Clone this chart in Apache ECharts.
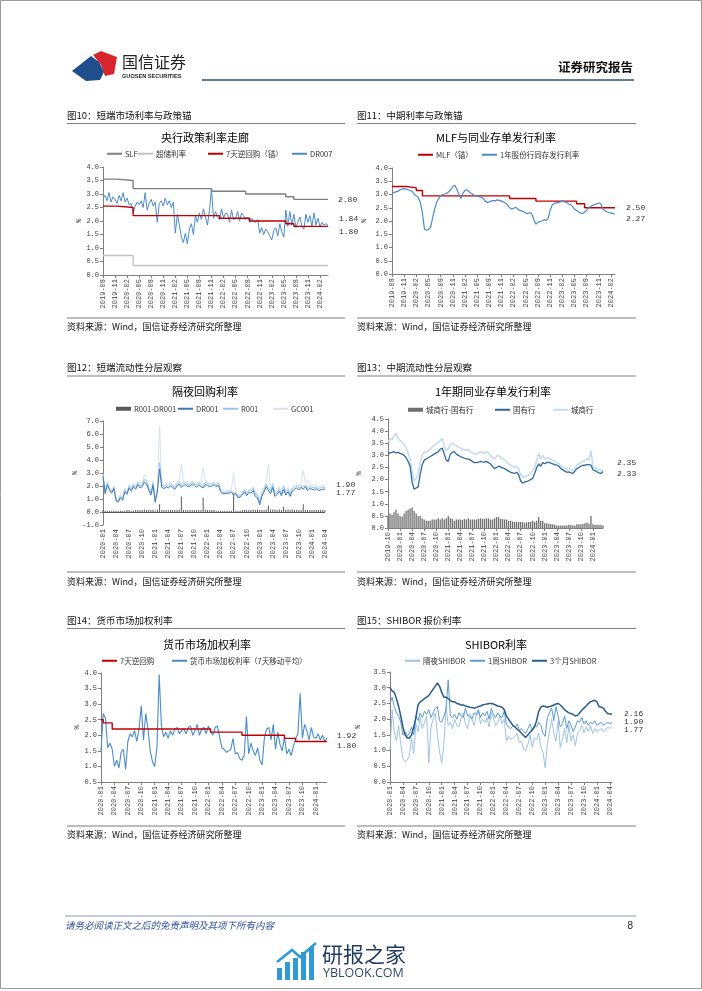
<!DOCTYPE html>
<html><head><meta charset="utf-8">
<script src="https://cdn.jsdelivr.net/npm/echarts@6/dist/echarts.min.js"></script>
<style>html,body{margin:0;padding:0;background:#fff}#c{width:702px;height:991px}</style>
</head><body><div id="c"></div>
<script>
// ---------- categories (half-month buckets) ----------
function halfMonths(y, m, n) {
  const out = [];
  for (let k = 0; k < n; k++) {
    const idx = (m - 1) + Math.floor(k / 2);
    const yy = y + Math.floor(idx / 12), mo = idx % 12 + 1;
    out.push(yy + '-' + String(mo).padStart(2, '0') + '-' + (k % 2 + 1));
  }
  return out;
}
const cats1 = halfMonths(2019, 8, 113);
const cats2 = halfMonths(2019, 8, 111);
const cats3 = halfMonths(2020, 1, 103);
const cats4 = halfMonths(2019, 10, 108);
const cats5 = halfMonths(2020, 1, 102);
const cats6 = halfMonths(2020, 1, 104);

// ---------- chart 10: 央行政策利率走廊 ----------
const slf = [['2019-08-1',3.55],['2019-11-2',3.50],['2020-03-2',3.20],['2021-11-1',3.10],['2022-07-2',3.00],['2023-05-2',2.90],['2023-07-2',2.80],['2024-04-1',2.80]];
const excessReserve = [['2019-08-1',0.72],['2020-03-2',0.35],['2024-04-1',0.35]];
const repo7dAnchor = [['2019-08-1',2.55],['2019-11-2',2.50],['2020-03-2',2.20],['2022-01-1',2.10],['2022-08-2',2.00],['2023-05-2',1.90],['2023-07-2',1.80],['2024-04-1',1.80]];
const dr007 = [
 2.85,2.95, 2.75,3.05, 2.70,2.90, 2.80,2.65, 2.95,2.75, 3.05,2.70,
 2.85,2.60, 2.65,2.30, 2.55,2.70, 2.60,2.75, 2.50,3.05, 2.40,2.65,
 2.80,2.55, 2.70,1.95, 2.65,2.75, 2.55,2.85, 2.60,2.75, 2.50,2.70,
 1.55,2.25, 1.85,1.40, 1.20,1.55, 1.15,1.70, 1.90,1.50, 2.20,1.95,
 2.30,2.05, 2.45,2.15, 1.85,2.40, 3.20,2.10, 2.35,2.15, 2.05,2.45,
 2.10,2.30, 2.25,1.95, 2.40,2.05, 2.10,2.35, 2.00,2.30, 2.20,2.05,
 2.15,1.95, 2.10,2.00, 1.95,2.05, 1.55,1.75, 1.50,1.70, 1.60,1.45,
 1.30,1.65, 1.75,1.45, 1.90,1.60, 1.40,2.40, 1.80,2.35, 1.85,2.25,
 1.75,1.95, 2.15,1.80, 1.70,2.25, 1.95,2.20, 1.80,2.30, 1.85,2.10,
 1.80,1.95, 1.85,1.90, 1.84];

// ---------- chart 11: MLF与同业存单发行利率 ----------
const mlf = [['2019-08-1',3.30],['2019-11-2',3.25],['2020-02-1',3.15],['2020-03-2',2.95],['2022-01-1',2.85],['2022-07-2',2.75],['2023-05-2',2.65],['2023-07-2',2.50],['2024-03-1',2.50]];
const cd1yJointStock = [
 3.05,3.08, 3.10,3.12, 3.18,3.20, 3.22,3.20, 3.18,3.15, 3.12,3.00,
 2.95,2.88, 2.70,2.30, 1.70,1.65, 1.68,1.75, 2.10,2.45, 2.70,2.85,
 2.95,3.00, 3.02,3.05, 3.10,3.18, 3.30,3.35, 3.20,3.00, 2.85,3.05,
 3.15,3.18, 3.10,3.05, 3.00,2.95, 2.95,2.92, 2.90,2.85, 2.75,2.70,
 2.72,2.75, 2.78,2.76, 2.80,2.78, 2.75,2.72, 2.68,2.60, 2.50,2.45,
 2.48,2.52, 2.45,2.40, 2.38,2.35, 2.30,2.28, 2.32,2.25, 2.05,1.88,
 1.95,1.98, 2.00,2.05, 2.02,2.10, 2.40,2.60, 2.65,2.70, 2.68,2.72,
 2.75,2.72, 2.70,2.65, 2.62,2.55, 2.45,2.40, 2.35,2.30, 2.28,2.35,
 2.40,2.50, 2.55,2.60, 2.62,2.65, 2.68,2.65, 2.45,2.40, 2.35,2.32,
 2.30,2.28, 2.27];

// ---------- chart 12: 隔夜回购利率 ----------
const dr001 = [
 2.75,1.40, 2.10,1.70, 1.45,1.80, 0.85,0.75, 1.10,0.90, 1.55,1.35,
 1.85,1.60, 1.95,1.75, 2.10,1.85, 1.95,2.30, 2.15,1.70, 1.30,2.05,
 0.75,1.60, 3.30,1.90, 1.80,1.95, 1.85,2.00, 1.90,1.75, 2.00,2.15,
 1.90,2.05, 2.10,1.95, 2.00,2.15, 2.05,1.90, 2.10,1.95, 1.85,2.10,
 2.05,1.95, 2.00,2.10, 1.95,2.05, 1.60,1.40, 1.40,1.45, 1.45,1.50,
 1.35,1.40, 1.10,1.15, 1.30,1.55, 1.25,1.50, 1.45,1.65, 1.20,1.10,
 0.55,1.20, 1.55,1.95, 1.65,1.40, 1.90,1.20, 1.35,1.60, 1.25,1.75,
 1.30,1.55, 1.20,1.60, 1.75,1.85, 1.70,1.90, 1.75,1.95, 1.65,1.80,
 1.75,1.70, 1.80,1.65, 1.70,1.75, 1.77];
const r001 = [
 2.90,1.50, 2.20,1.80, 1.55,1.90, 0.95,0.85, 1.20,1.00, 1.70,1.45,
 2.00,1.75, 2.10,1.90, 2.25,2.00, 2.10,2.50, 2.30,1.85, 1.45,2.25,
 0.85,1.75, 3.80,2.05, 1.95,2.10, 2.00,2.15, 2.05,1.90, 2.15,2.35,
 2.05,2.20, 2.25,2.10, 2.15,2.30, 2.20,2.05, 2.25,2.10, 2.00,2.30,
 2.20,2.10, 2.15,2.25, 2.10,2.20, 1.70,1.50, 1.50,1.55, 1.55,1.65,
 1.45,1.50, 1.20,1.25, 1.45,1.70, 1.40,1.65, 1.60,1.85, 1.40,1.30,
 0.70,1.40, 1.75,2.15, 1.85,1.60, 2.10,1.40, 1.50,1.80, 1.40,1.95,
 1.45,1.75, 1.35,1.80, 1.90,2.05, 1.85,2.05, 1.90,2.10, 1.80,1.95,
 1.90,1.85, 1.95,1.80, 1.85,1.90, 1.90];
const gc001 = [
 2.95,1.60, 2.40,1.90, 1.65,2.00, 1.05,0.95, 1.35,1.10, 1.85,1.55,
 2.15,1.85, 2.25,2.00, 2.40,2.10, 2.25,2.85, 2.45,1.95, 1.60,2.40,
 0.95,1.85, 6.60,2.15, 2.05,2.20, 2.10,2.25, 2.15,2.00, 2.25,2.45,
 3.70,2.30, 2.35,2.20, 2.25,2.40, 2.30,2.15, 2.35,2.20, 3.40,2.40,
 2.30,2.20, 2.25,2.35, 2.20,2.30, 1.80,1.60, 1.60,1.65, 1.65,1.75,
 3.00,1.60, 1.30,1.35, 1.55,1.80, 1.50,1.75, 1.70,1.95, 1.55,1.45,
 0.85,1.55, 1.90,2.30, 3.70,1.75, 2.25,1.55, 1.65,1.95, 1.55,2.10,
 1.60,1.90, 1.50,1.95, 2.05,2.20, 2.00,2.20, 3.20,2.25, 2.50,2.10,
 2.05,2.00, 2.10,1.95, 2.00,2.05, 2.00];
const r001MinusDr001 = [
 0.15,0.10,0.10,0.10,0.10,0.10,0.10,0.10,0.10,0.10,
 0.10,0.15,0.15,0.10,0.10,0.15,0.15,0.15,0.15,0.20,
 0.15,0.15,0.15,0.20,0.10,0.20,0.60,0.15,0.15,0.15,
 0.15,0.15,0.15,0.15,0.15,0.20,1.20,0.15,0.15,0.15,
 0.15,0.15,0.15,0.15,0.15,0.15,1.10,0.20,0.15,0.15,
 0.15,0.15,0.10,0.10,0.10,0.10,0.10,0.10,0.10,0.10,
 1.40,0.10,0.10,0.10,0.15,0.15,0.15,0.15,0.15,0.20,
 0.15,0.20,0.15,0.15,0.15,0.20,0.50,0.20,0.20,0.20,
 0.15,0.20,0.15,0.40,0.15,0.20,0.15,0.20,0.15,0.15,
 0.15,0.15,0.60,0.15,0.15,0.15,0.15,0.15,0.15,0.15,
 0.15,0.15,0.13];

// ---------- chart 13: 1年期同业存单发行利率 ----------
const cdStateOwned = [
 3.05,3.10, 3.12,3.15, 3.10,3.12, 3.08,3.05, 3.00,2.90, 2.75,2.55,
 1.90,1.60, 1.65,1.70, 2.20,2.60, 2.80,2.85, 2.90,2.95, 3.00,3.05,
 3.10,3.15, 3.25,3.30, 3.05,2.80, 2.75,3.05, 3.12,3.15, 3.05,3.00,
 2.95,2.92, 2.88,2.85, 2.85,2.80, 2.75,2.70, 2.70,2.72, 2.75,2.73,
 2.72,2.75, 2.70,2.65, 2.55,2.45, 2.50,2.55, 2.52,2.48, 2.45,2.40,
 2.35,2.30, 2.28,2.25, 2.30,2.20, 1.95,1.85, 1.90,1.92, 1.95,2.00,
 2.05,2.25, 2.50,2.65, 2.55,2.70, 2.65,2.70, 2.72,2.68, 2.65,2.62,
 2.60,2.55, 2.45,2.40, 2.35,2.30, 2.32,2.28, 2.25,2.35, 2.45,2.50,
 2.55,2.58, 2.60,2.62, 2.62,2.60, 2.40,2.38, 2.32,2.28, 2.25,2.33];
const cdCityComm = [
 3.55,3.70, 3.65,3.80, 3.90,3.70, 3.60,3.55, 3.45,3.30, 3.10,2.85,
 2.30,1.95, 2.05,2.20, 2.70,3.00, 3.15,3.10, 3.20,3.25, 3.35,3.40,
 3.45,3.55, 3.60,3.70, 3.40,3.20, 3.25,3.45, 3.50,3.45, 3.40,3.35,
 3.30,3.25, 3.25,3.20, 3.25,3.15, 3.10,3.05, 3.05,3.10, 3.15,3.10,
 3.10,3.15, 3.10,3.00, 2.90,2.85, 2.95,3.00, 2.90,2.85, 2.80,2.75,
 2.65,2.60, 2.55,2.50, 2.55,2.45, 2.20,2.10, 2.10,2.15, 2.20,2.25,
 2.35,2.50, 2.80,3.10, 2.85,3.00, 2.85,2.90, 2.90,2.85, 2.80,2.75,
 2.70,2.65, 2.55,2.50, 2.45,2.40, 2.45,2.40, 2.35,2.45, 2.60,2.65,
 2.70,2.75, 2.80,2.85, 2.80,3.20, 2.55,2.50, 2.45,2.40, 2.38,2.35];
const cdSpread = [
 0.50,0.60, 0.55,0.65, 0.75,0.60, 0.50,0.45, 0.60,0.70, 0.75,0.80,
 0.85,0.70, 0.60,0.50, 0.50,0.40, 0.35,0.30, 0.30,0.30, 0.35,0.35,
 0.35,0.40, 0.35,0.40, 0.35,0.40, 0.50,0.40, 0.38,0.30, 0.35,0.35,
 0.35,0.33, 0.37,0.35, 0.40,0.35, 0.35,0.35, 0.35,0.38, 0.40,0.37,
 0.38,0.40, 0.40,0.35, 0.35,0.40, 0.45,0.45, 0.38,0.37, 0.35,0.35,
 0.30,0.30, 0.27,0.25, 0.25,0.25, 0.25,0.25, 0.20,0.23, 0.25,0.25,
 0.30,0.25, 0.30,0.45, 0.30,0.30, 0.20,0.20, 0.18,0.17, 0.15,0.13,
 0.10,0.10, 0.10,0.10, 0.10,0.10, 0.13,0.12, 0.10,0.10, 0.15,0.15,
 0.15,0.17, 0.20,0.23, 0.18,0.50, 0.15,0.12, 0.13,0.12, 0.13,0.10];

// ---------- chart 14: 货币市场加权利率 ----------
const repo7d = [['2020-01-1',2.50],['2020-01-2',2.40],['2020-03-2',2.20],['2022-01-2',2.10],['2022-08-2',2.00],['2023-06-1',1.90],['2023-08-2',1.80],['2024-03-2',1.80]];
const mmWeighted = [
 1.50,2.70, 2.55,1.60, 1.75,1.55, 1.00,1.20, 0.95,1.45, 1.55,0.90,
 1.80,2.05, 1.95,2.15, 1.80,2.20, 2.95,1.85, 2.70,2.20, 1.50,1.15,
 1.00,1.60, 3.95,2.30, 1.95,2.10, 1.90,2.15, 2.00,2.20, 2.25,2.05,
 2.15,2.20, 2.05,2.25, 2.30,2.00, 2.15,2.35, 2.00,2.20, 2.25,2.05,
 2.30,2.10, 2.00,2.25, 2.30,1.95, 1.60,1.55, 1.45,1.50, 1.55,1.90,
 1.40,1.45, 1.25,1.20, 1.35,2.60, 1.40,1.75, 1.50,1.35, 1.60,1.20,
 1.05,1.90, 2.20,2.25, 1.85,2.35, 1.55,2.10, 1.70,1.50, 1.95,1.40,
 1.55,1.35, 1.65,1.90, 2.05,3.35, 1.90,2.35, 2.15,1.85, 2.25,1.95,
 1.90,2.05, 1.85,2.00, 1.80,1.92];

// ---------- chart 15: SHIBOR利率 ----------
const shibor3m = [
 3.00,2.90, 2.85,2.65, 2.40,2.10, 1.75,1.50, 1.40,1.40, 1.50,1.75,
 2.05,2.45, 2.55,2.60, 2.65,2.70, 2.75,2.85, 2.95,3.05, 3.15,3.05,
 2.85,2.70, 2.70,2.65, 2.60,2.55, 2.55,2.50, 2.48,2.45, 2.45,2.42,
 2.40,2.38, 2.37,2.35, 2.37,2.40, 2.42,2.45, 2.47,2.48, 2.50,2.50,
 2.48,2.45, 2.42,2.40, 2.38,2.30, 2.10,2.00, 1.90,1.80, 1.75,1.68,
 1.62,1.55, 1.48,1.42, 1.50,1.58, 1.65,1.75, 1.95,2.25, 2.38,2.42,
 2.40,2.38, 2.40,2.42, 2.45,2.48, 2.50,2.45, 2.38,2.30, 2.25,2.20,
 2.18,2.15, 2.10,2.12, 2.20,2.28, 2.35,2.42, 2.50,2.55, 2.58,2.60,
 2.55,2.40, 2.38,2.35, 2.25,2.18, 2.16,2.16];
const shibor1w = [
 2.50,2.70, 2.40,2.20, 2.10,1.90, 1.50,1.60, 1.45,1.55, 1.75,1.50,
 2.10,1.95, 2.20,2.05, 2.25,2.15, 2.30,2.05, 2.20,2.35, 2.40,1.95,
 1.90,2.10, 2.30,3.25, 2.10,2.05, 2.15,2.00, 2.20,2.10, 2.05,2.35,
 2.10,2.15, 2.00,2.20, 2.15,2.30, 2.05,2.20, 2.10,2.25, 2.00,2.35,
 2.15,2.05, 2.20,2.10, 2.05,2.25, 1.85,1.75, 1.70,1.80, 1.75,1.85,
 1.65,1.70, 1.60,1.55, 1.70,1.85, 1.65,1.80, 1.75,1.90, 1.80,1.55,
 1.45,2.05, 2.20,2.35, 1.95,2.40, 2.10,1.75, 1.85,2.10, 1.70,1.95,
 1.80,1.60, 1.75,1.95, 1.90,2.05, 1.85,1.95, 1.80,1.90, 1.85,1.95,
 1.80,1.85, 1.90,1.80, 1.85,1.90, 1.85,1.90];
const shiborON = [
 1.00,2.30, 1.60,1.30, 1.80,1.20, 0.75,0.65, 0.70,0.85, 1.40,0.90,
 1.85,1.60, 2.05,1.70, 1.90,2.10, 0.60,1.75, 2.00,2.20, 1.50,0.95,
 0.60,1.20, 2.40,1.80, 1.90,1.70, 2.00,1.80, 1.75,2.05, 2.20,1.85,
 1.70,2.10, 2.00,1.80, 2.10,2.25, 1.85,2.00, 1.90,2.05, 1.75,2.20,
 2.05,1.80, 1.90,2.10, 1.85,2.00, 1.30,1.45, 1.35,1.40, 1.45,1.55,
 1.25,1.30, 1.05,1.00, 1.20,1.50, 1.10,1.40, 1.35,1.55, 1.10,0.95,
 0.45,1.20, 1.60,2.00, 1.55,1.30, 1.95,1.10, 1.35,1.70, 1.25,1.80,
 1.30,1.50, 1.15,1.55, 1.65,1.80, 1.55,1.75, 1.60,1.80, 1.55,1.70,
 1.60,1.65, 1.70,1.60, 1.65,1.75, 1.70,1.77];

// ---------- building ----------
const CJK = '"Noto Sans CJK SC", "Noto Sans", sans-serif';
const MONO = '"Liberation Mono", "DejaVu Sans Mono", monospace';
const AX = '#7f7f7f', LBL = '#404040';

const grids = [
  {left:103, top:167, width:225, height:108},
  {left:392, top:168, width:223, height:106},
  {left:103, top:421, width:222, height:104},
  {left:388, top:419, width:215, height:109},
  {left:101, top:673, width:226, height:109},
  {left:390, top:672, width:222, height:110}
].map(g => Object.assign({containLabel:false, outerBoundsMode:'none', show:false}, g));

const catsAll = [cats1, cats2, cats3, cats4, cats5, cats6];
const yCfg = [
  {min:0, max:4, interval:0.5, gap:20},
  {min:0, max:4, interval:0.5, gap:24},
  {min:-1, max:7, interval:1, gap:20},
  {min:0, max:4.5, interval:0.5, gap:25},
  {min:0.5, max:4, interval:0.5, gap:20},
  {min:0, max:3.5, interval:0.5, gap:28}
];
const every3m = (idx) => idx % 6 === 0;

const xAxes = catsAll.map((c, i) => ({
  type:'category', gridIndex:i, data:c, boundaryGap:false,
  axisLine:{show: i !== 2, onZero:false, lineStyle:{color:AX, width:1}},
  axisTick:{show: i !== 2, interval:every3m, length:3, lineStyle:{color:AX}},
  axisLabel:{interval:every3m, rotate:90, margin:4, fontSize:7, color:LBL, fontFamily:MONO,
    formatter: v => v.slice(0, 7)},
  splitLine:{show:false}
}));
const yAxes = yCfg.map((y, i) => ({
  type:'value', gridIndex:i, min:y.min, max:y.max, interval:y.interval,
  axisLine:{show:true, lineStyle:{color:AX, width:1}},
  axisTick:{show:true, length:3, lineStyle:{color:AX}},
  axisLabel:{fontSize:7, color:LBL, fontFamily:MONO, margin:4, formatter: v => v.toFixed(1)},
  splitLine:{show:false},
  name:'%', nameLocation:'middle', nameGap:y.gap,
  nameTextStyle:{fontSize:7, color:LBL, fontFamily:MONO}
}));

function ln(name, data, color, gi, width, endOffset, extra) {
  const s = {type:'line', name, data, xAxisIndex:gi, yAxisIndex:gi, symbol:'none', showSymbol:false,
    lineStyle:{color, width}, itemStyle:{color}, silent:true, animation:false};
  if (endOffset) s.endLabel = {show:true, offset:endOffset, fontSize:8, color:'#333', fontFamily:MONO,
    formatter: p => Number(Array.isArray(p.value) ? p.value[1] : p.value).toFixed(2)};
  return Object.assign(s, extra || {});
}
function br(name, data, color, gi, bw, extra) {
  return Object.assign({type:'bar', name, data, xAxisIndex:gi, yAxisIndex:gi, barWidth:bw,
    itemStyle:{color}, silent:true, animation:false}, extra || {});
}

const C = {
  slf:'#7f7f7f', exr:'#c3c3c3', red:'#c00000', blue:'#4a8cc9',
  dr001:'#3a78b8', r001:'#9dc3e6', gc001:'#d5e3f1', bar3:'#595959',
  soe:'#2d6a9f', city:'#c5dcf0', bar4:'#6f6f6f',
  on:'#9dc3e6', w1:'#5b9bd5', m3:'#2b5c8a'
};

const series = [
  // chart 10
  ln('超储利率', excessReserve, C.exr, 0, 1.4, null, {step:'end'}),
  ln('SLF', slf, C.slf, 0, 1.4, [2, 0], {step:'end'}),
  ln('DR007', dr007, C.blue, 0, 1, [3, -6]),
  ln('7天逆回购（锚）', repo7dAnchor, C.red, 0, 1.4, [3, 5], {step:'end'}),
  // chart 11
  ln('1年股份行同存发行利率', cd1yJointStock, C.blue, 1, 1.2, [3, 5]),
  ln('MLF（锚）', mlf, C.red, 1, 1.4, [3, 0], {step:'end', z:1}),
  // chart 12
  br('R001-DR001', r001MinusDr001, C.bar3, 2, 1, {markLine:{silent:true, symbol:'none', label:{show:false},
     lineStyle:{color:'#595959', width:1, type:'solid'}, data:[{yAxis:0}]}}),
  ln('GC001', gc001, C.gc001, 2, 1),
  ln('R001', r001, C.r001, 2, 1, [3, -2]),
  ln('DR001', dr001, C.dr001, 2, 1, [3, 4]),
  // chart 13
  br('城商行-国有行', cdSpread, C.bar4, 3, 1.3),
  ln('城商行', cdCityComm, C.city, 3, 1.6, [6, -8]),
  ln('国有行', cdStateOwned, C.soe, 3, 1.3, [6, 2]),
  // chart 14
  ln('货币市场加权利率（7天移动平均）', mmWeighted, C.blue, 4, 1.1, [2, -2]),
  ln('7天逆回购', repo7d, C.red, 4, 1.4, [2, 4], {step:'end'}),
  // chart 15
  ln('隔夜SHIBOR', shiborON, C.on, 5, 1, [4, 4]),
  ln('1周SHIBOR', shibor1w, C.w1, 5, 1, [4, 0]),
  ln('3个月SHIBOR', shibor3m, C.m3, 5, 1.5, [4, 0])
];

function lg(name, x, yc, bar) {
  return {data:[name], left:x, top:yc - 6, icon:'rect', itemWidth:15, itemHeight: bar ? 4 : 2,
    padding:0, itemGap:0, selectedMode:false,
    textStyle:{fontSize:7.5, color:'#333', fontFamily:CJK, padding:[0,0,0,-2]}};
}
const legends = [
  lg('SLF', 107, 156), lg('超储利率', 138, 156), lg('7天逆回购（锚）', 208, 156), lg('DR007', 292, 156),
  lg('MLF（锚）', 418, 157), lg('1年股份行同存发行利率', 482, 157),
  lg('R001-DR001', 116, 411, true), lg('DR001', 178, 411), lg('R001', 223, 411), lg('GC001', 273, 411),
  lg('城商行-国有行', 408, 412, true), lg('国有行', 495, 412), lg('城商行', 553, 412),
  lg('7天逆回购', 102, 663), lg('货币市场加权利率（7天移动平均）', 172, 663),
  lg('隔夜SHIBOR', 405, 663), lg('1周SHIBOR', 470, 663), lg('3个月SHIBOR', 532, 663)
];

// ---------- static page text ----------
const G = [];
function txt(text, x, y, size, o) {
  G.push({type:'text', x, y, silent:true, style:Object.assign({text, fontSize:size, fontFamily:CJK,
    fill:'#000', align:'left', verticalAlign:'middle'}, o || {})});
}
function hline(x1, x2, y, color, w) {
  G.push({type:'line', silent:true, shape:{x1, y1:y, x2, y2:y}, style:{stroke:color, lineWidth:w}});
}
// frame
G.push({type:'rect', silent:true, shape:{x:0.5, y:0.5, width:701, height:988}, style:{fill:'none', stroke:'#9a9a9a', lineWidth:1}});
// logo
G.push({type:'polygon', silent:true, shape:{points:[[93,55],[101,51],[117,57],[114,74],[105,76],[101,65]]}, style:{fill:'#d7262e'}});
G.push({type:'polygon', silent:true, shape:{points:[[72,71],[91,56],[99,62],[104,72],[100,80],[86,81]]}, style:{fill:'#1f4e8c'}});
txt('国信证券', 122, 62, 16, {fill:'#222', fontWeight:'normal'});
txt('GUOSEN SECURITIES', 122, 76, 5.6, {fill:'#222', fontWeight:'bold', fontFamily:'"Liberation Sans", Arial, sans-serif'});
hline(202, 634, 80, '#2f5573', 1.6);
txt('证券研究报告', 633, 67, 12.5, {align:'right', fontWeight:'bold', fill:'#111'});

// panel headers / sources
const src = '资料来源：Wind，国信证券经济研究所整理';
const panels = [
  ['图10：短端市场利率与政策锚', 67, 345, 115, 123.5, 318, 327],
  ['图11：中期利率与政策锚', 357, 636, 115, 123.5, 318, 327],
  ['图12：短端流动性分层观察', 67, 345, 367, 376, 572, 582],
  ['图13：中期流动性分层观察', 357, 636, 367, 376, 572, 582],
  ['图14：货币市场加权利率', 67, 345, 620, 628.5, 826, 835],
  ['图15：SHIBOR 报价利率', 357, 636, 620, 628.5, 826, 835]
];
panels.forEach(p => {
  txt(p[0], p[1], p[3], 9.5, {fill:'#111'});
  hline(p[1], p[2], p[4], '#7f7f7f', 1.2);
  hline(p[1], p[2], p[5], '#7f7f7f', 1.2);
  txt(src, p[1], p[6], 9, {fill:'#111'});
});
// chart titles
txt('央行政策利率走廊', 205, 138, 11, {align:'center'});
txt('MLF与同业存单发行利率', 496, 138, 11, {align:'center'});
txt('隔夜回购利率', 205, 392, 11, {align:'center'});
txt('1年期同业存单发行利率', 493, 392, 11, {align:'center'});
txt('货币市场加权利率', 207, 645, 11, {align:'center'});
txt('SHIBOR利率', 496, 645, 11, {align:'center'});
// footer
hline(65, 636, 916, '#8a9bb0', 1);
txt('请务必阅读正文之后的免责声明及其项下所有内容', 65, 925, 9.5, {fill:'#2f5597', fontStyle:'italic'});
txt('8', 633, 926, 10, {align:'right', fill:'#222', fontFamily:'"Liberation Sans", sans-serif'});
// watermark logo
[[277,968,5,12],[285,962,5,18],[293,958,5,22],[301,952,5,28],[309,947,5,33]].forEach(b =>
  G.push({type:'rect', silent:true, shape:{x:b[0], y:b[1], width:b[2], height:b[3]}, style:{fill:'#2e9ad9'}}));
G.push({type:'polyline', silent:true, shape:{points:[[277,962],[292,950],[300,957],[316,943]]}, style:{stroke:'#2e9ad9', lineWidth:2.5, fill:'none'}});
txt('研报之家', 322, 954, 21, {fill:'#1f3a5f'});
txt('YBLOOK.COM', 323, 973, 12.5, {fill:'#2f4a6a', fontFamily:'"Open Sans", "Liberation Sans", sans-serif'});

const chart = echarts.init(document.getElementById('c'), null, {renderer:'canvas'});
chart.setOption({
  animation:false,
  backgroundColor:'#fff',
  grid:grids, xAxis:xAxes, yAxis:yAxes, legend:legends, series:series, graphic:G
});
</script></body></html>
